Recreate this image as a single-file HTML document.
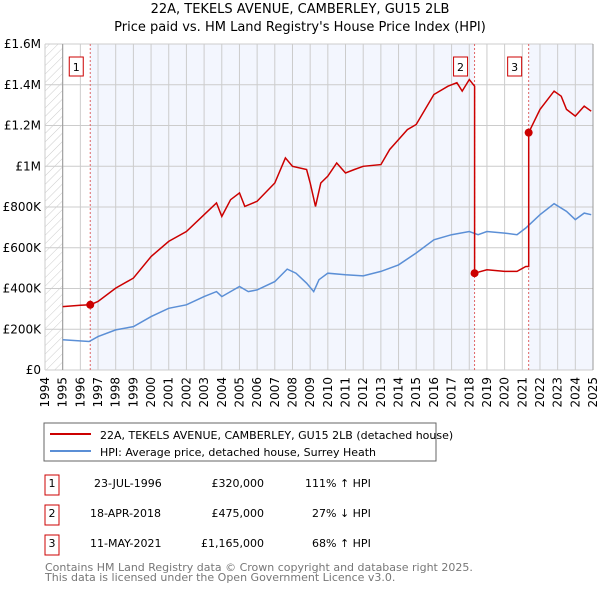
<!DOCTYPE html>
<html><head><meta charset="utf-8"><style>
body{margin:0;background:#fff;font-family:"DejaVu Sans","Liberation Sans",sans-serif;}
svg text{font-family:"DejaVu Sans","Liberation Sans",sans-serif;}
</style></head><body>
<svg id="c" width="600" height="590" xmlns="http://www.w3.org/2000/svg">
<defs><pattern id="hatch" width="6" height="6" patternUnits="userSpaceOnUse" patternTransform="rotate(45)"><line x1="0" y1="0" x2="0" y2="6" stroke="#ccc" stroke-width="1"/></pattern></defs>
<text x="300" y="13" text-anchor="middle" font-size="13">22A, TEKELS AVENUE, CAMBERLEY, GU15 2LB</text>
<text x="300" y="31" text-anchor="middle" font-size="13">Price paid vs. HM Land Registry's House Price Index (HPI)</text>
<g id="plot"></g>
<rect x="44" y="423" width="392" height="38" fill="none" stroke="#666"/>
<line x1="50" y1="434" x2="91" y2="434" stroke="#cc0000" stroke-width="2"/>
<text x="100" y="439" font-size="11">22A, TEKELS AVENUE, CAMBERLEY, GU15 2LB (detached house)</text>
<line x1="50" y1="451" x2="91" y2="451" stroke="#5b8fd6" stroke-width="2"/>
<text x="100" y="456" font-size="11">HPI: Average price, detached house, Surrey Heath</text>
<g font-size="11">
<rect x="45" y="475" width="14" height="20" fill="none" stroke="#cc0000"/><text x="52" y="487" text-anchor="middle">1</text>
<text x="94" y="487">23-JUL-1996</text><text x="264" y="487" text-anchor="end">£320,000</text><text x="305" y="487">111% ↑ HPI</text>
<rect x="45" y="505" width="14" height="20" fill="none" stroke="#cc0000"/><text x="52" y="517" text-anchor="middle">2</text>
<text x="90" y="517">18-APR-2018</text><text x="264" y="517" text-anchor="end">£475,000</text><text x="312" y="517">27% ↓ HPI</text>
<rect x="45" y="535" width="14" height="20" fill="none" stroke="#cc0000"/><text x="52" y="547" text-anchor="middle">3</text>
<text x="90" y="547">11-MAY-2021</text><text x="264" y="547" text-anchor="end">£1,165,000</text><text x="312" y="547">68% ↑ HPI</text>
</g>
<text x="45" y="571" font-size="11" fill="#777">Contains HM Land Registry data © Crown copyright and database right 2025.</text>
<text x="45" y="581" font-size="11" fill="#777">This data is licensed under the Open Government Licence v3.0.</text>
</svg>
<script>
const yTicks=[0,200000,400000,600000,800000,1000000,1200000,1400000,1600000];
const yTickLabels=["£0","£200K","£400K","£600K","£800K","£1M","£1.2M","£1.4M","£1.6M"];
const years=[1994,1995,1996,1997,1998,1999,2000,2001,2002,2003,2004,2005,2006,2007,2008,2009,2010,2011,2012,2013,2014,2015,2016,2017,2018,2019,2020,2021,2022,2023,2024,2025];
const hpiX=[1995,1996.5,1997,1998,1999,2000,2001,2002,2003,2003.7,2004,2005,2005.5,2006,2007,2007.7,2008.2,2008.8,2009.2,2009.5,2010,2011,2012,2013,2014,2015,2016,2017,2018,2018.5,2019,2020,2020.7,2021.2,2022,2022.8,2023.5,2024,2024.5,2024.9];
const hpiY=[148,140,164,197,213,262,303,320,360,385,360,410,385,393,434,495,475,426,385,443,475,467,462,484,516,574,639,664,680,664,680,672,664,697,762,816,779,738,770,762];
const priceX=[1995,1996,1996.56,1997,1998,1999,2000,2001,2002,2003,2003.7,2004,2004.5,2005,2005.3,2006,2007,2007.6,2008,2008.8,2009,2009.3,2009.6,2010,2010.5,2011,2011.5,2012,2013,2013.5,2014,2014.5,2015,2016,2016.8,2017.3,2017.6,2018,2018.3,2018.3,2019,2020,2020.7,2021.2,2021.36,2021.36,2022,2022.8,2023.2,2023.5,2024,2024.5,2024.9];
const priceY=[311,318,320,336,402,451,557,631,680,762,820,754,836,869,803,828,918,1041,1000,984,918,803,918,951,1016,967,984,1000,1008,1082,1131,1180,1205,1352,1393,1410,1369,1426,1393,475,492,484,484,508,508,1165,1279,1369,1344,1279,1246,1295,1270];
const saleX=[1996.56,2018.3,2021.36];
const saleY=[320,475,1165];
const saleLabels=["1","2","3"];

const NS="http://www.w3.org/2000/svg";
const L=45,R=593,T=44,B=370;
const xs=y=>L+(y-1994)/(2025-1994)*(R-L);
const ys=v=>B-v/1600000*(B-T);
const g=document.getElementById('plot');
function mk(t,a){const e=document.createElementNS(NS,t);for(const k in a)e.setAttribute(k,a[k]);g.appendChild(e);return e;}
let e;
e=mk('rect',{x:L,y:T,width:R-L,height:B-T,fill:'#fff'});


e=mk('rect',{x:xs(saleX[0]),y:T,width:xs(saleX[1])-xs(saleX[0]),height:B-T,fill:'#f3f6fe'});


e=mk('rect',{x:xs(saleX[2]),y:T,width:R-xs(saleX[2]),height:B-T,fill:'#f3f6fe'});


e=mk('rect',{x:L,y:T,width:xs(1995)-L,height:B-T,fill:'url(#hatch)'});


years.forEach(y=>{
 e=mk('line',{x1:xs(y),x2:xs(y),y1:T,y2:B,stroke:'#ccc','stroke-width':1});
 
 
 e=mk('text',{x:0,y:0,'font-size':12,'text-anchor':'end',transform:`translate(${xs(y)+4},${B+7}) rotate(-90)`});
 e.textContent=y;
 
 
});
yTicks.forEach((v,i)=>{
 e=mk('line',{x1:L,x2:R,y1:ys(v),y2:ys(v),stroke:'#ccc','stroke-width':1});
 
 
 e=mk('text',{x:L-4,y:ys(v)+4,'font-size':12,'text-anchor':'end'});
 e.textContent=yTickLabels[i];
 
 
});
e=mk('line',{x1:xs(1995),x2:xs(1995),y1:T,y2:B,stroke:'#999'});


saleX.forEach((sx,i)=>{
 e=mk('line',{x1:xs(sx),x2:xs(sx),y1:T,y2:B,stroke:'#e06666','stroke-dasharray':'2,2'});
 
 
});
const pts=(X,Y)=>X.map((x,i)=>xs(x).toFixed(1)+','+ys(Y[i]*1000).toFixed(1)).join(' ');
e=mk('polyline',{points:pts(hpiX,hpiY),fill:'none',stroke:'#5b8fd6','stroke-width':1.5});


e=mk('polyline',{points:pts(priceX,priceY),fill:'none',stroke:'#cc0000','stroke-width':1.5});


saleX.forEach((sx,i)=>{
 e=mk('circle',{cx:xs(sx),cy:ys(saleY[i]*1000),r:4,fill:'#cc0000'});
 
 
 e=mk('rect',{x:xs(sx)-21,y:57,width:14,height:19,fill:'#fff',stroke:'#cc0000'});
 
 
 e=mk('text',{x:xs(sx)-14,y:71,'font-size':11,'text-anchor':'middle'});
 e.textContent=saleLabels[i];
 
 
});
e=mk('line',{x1:R,x2:R,y1:T,y2:B,stroke:'#999'});


</script>
</body></html>
